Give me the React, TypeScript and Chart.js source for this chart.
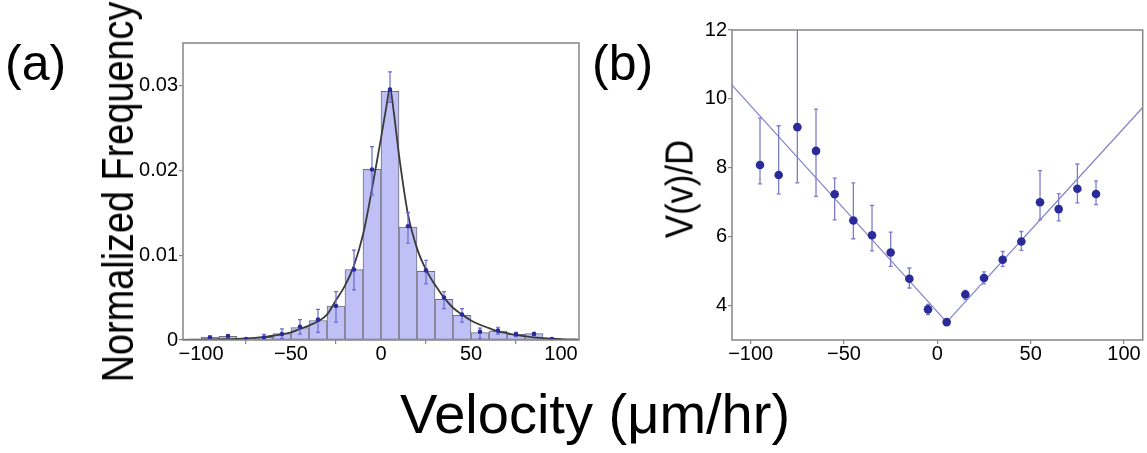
import React, { useEffect, useRef } from "react";
import { Chart, registerables } from "chart.js";

Chart.register(...registerables);

// ---------- Panel (a): histogram of velocities ----------
const binCenters = [-95, -85, -75, -65, -55, -45, -35, -25, -15, -5, 5, 15, 25, 35, 45, 55, 65, 75, 85, 95];
const binHeights = [0.00035, 0.00043, 0.0001, 0.0003, 0.00075, 0.00146, 0.0023, 0.004, 0.0083, 0.0201, 0.0293, 0.0133, 0.0081, 0.0048, 0.0029, 0.00087, 0.00106, 0.00067, 0.00075, 0.0002];
const histMean = [0.0003, 0.00047, 0.0001, 0.0003, 0.00071, 0.00157, 0.0024, 0.004, 0.0083, 0.0201, 0.0295, 0.0134, 0.0082, 0.005, 0.003, 0.00098, 0.0011, 0.00067, 0.00071, 0.0001];
const histLow = [0.0001, 0.0003, 0.0, 0.0, 0.0002, 0.0007, 0.0009, 0.0021, 0.0059, 0.0171, 0.028, 0.0114, 0.0066, 0.0037, 0.0021, 0.0002, 0.0007, 0.0004, 0.0005, 0.0];
const histHigh = [0.0005, 0.0006, 0.0002, 0.00067, 0.0013, 0.0024, 0.0036, 0.0057, 0.0106, 0.0228, 0.0316, 0.015, 0.0094, 0.0057, 0.0037, 0.0014, 0.0015, 0.0009, 0.0009, 0.0002];
const fitX = [-110, -100, -90, -80, -70, -60, -50, -45, -40, -35, -30, -25, -20, -15, -10, -5, 0, 3, 5, 7, 10, 15, 20, 25, 30, 35, 40, 45, 50, 55, 60, 65, 70, 75, 80, 85, 90, 95, 100, 110];
const fitY = [0.00002, 0.00005, 0.00008, 0.00012, 0.00025, 0.0005, 0.0009, 0.0013, 0.0017, 0.0022, 0.003, 0.0047, 0.0064, 0.0088, 0.0124, 0.0178, 0.0238, 0.0275, 0.0297, 0.027, 0.0218, 0.0148, 0.0108, 0.0083, 0.0065, 0.005, 0.0038, 0.003, 0.0023, 0.0018, 0.0014, 0.001, 0.0008, 0.0006, 0.00045, 0.0003, 0.00022, 0.00015, 0.0001, 0.00005];
const yTicksA = [0, 0.01, 0.02, 0.03];
const yTickLabelsA = ["0", "0.01", "0.02", "0.03"];

// ---------- Panel (b): V(v)/D ----------
const vCenters = [-95, -85, -75, -65, -55, -45, -35, -25, -15, -5, 5, 15, 25, 35, 45, 55, 65, 75, 85];
const vValues = [8.08, 7.79, 9.18, 8.49, 7.23, 6.47, 6.04, 5.54, 4.78, 3.89, 3.52, 4.32, 4.8, 5.33, 5.86, 7.0, 6.8, 7.39, 7.24];
const vLow = [7.53, 7.24, 7.56, 7.17, 6.49, 5.94, 5.59, 5.14, 4.51, 3.74, 3.47, 4.17, 4.63, 5.14, 5.6, 6.49, 6.46, 6.98, 6.93];
const vHigh = [9.44, 9.22, 12.8, 9.7, 7.7, 7.56, 6.91, 6.13, 5.09, 4.03, 3.57, 4.44, 4.98, 5.57, 6.15, 7.92, 7.25, 8.11, 7.62];
const vFitX = [-110, 5, 110];
const vFitY = [10.4, 3.52, 9.75];
const yTicksB = [4, 6, 8, 10, 12];
const yTickLabelsB = ["4", "6", "8", "10", "12"];

const xTicks = [-100, -50, 0, 50, 100];
const xTickLabels = ["\u2212100", "\u221250", "0", "50", "100"];

const FONT = "'Liberation Sans', Arial, Helvetica, sans-serif";
const FRAME = "#858585";

function makePlugin(dsIndex: number, xs: number[], lo: number[], hi: number[], color: string, width: number, cap: number) {
  return {
    id: "errbars" + dsIndex,
    beforeDatasetDraw(chart: any, args: any) {
      if (args.index !== dsIndex) return;
      const { ctx, chartArea, scales } = chart;
      const x = scales.x, y = scales.y;
      ctx.save();
      ctx.beginPath();
      ctx.rect(chartArea.left, chartArea.top, chartArea.right - chartArea.left, chartArea.bottom - chartArea.top);
      ctx.clip();
      ctx.strokeStyle = color;
      ctx.lineWidth = width;
      xs.forEach((xv, i) => {
        const px = x.getPixelForValue(xv);
        const p1 = y.getPixelForValue(lo[i]);
        const p2 = y.getPixelForValue(hi[i]);
        ctx.beginPath();
        ctx.moveTo(px, p1);
        ctx.lineTo(px, p2);
        ctx.moveTo(px - cap, p1);
        ctx.lineTo(px + cap, p1);
        ctx.moveTo(px - cap, p2);
        ctx.lineTo(px + cap, p2);
        ctx.stroke();
      });
      ctx.restore();
    },
    afterDraw(chart: any) {
      const { ctx, chartArea } = chart;
      ctx.save();
      ctx.strokeStyle = FRAME;
      ctx.lineWidth = 1.5;
      ctx.strokeRect(chartArea.left, chartArea.top, chartArea.right - chartArea.left, chartArea.bottom - chartArea.top);
      ctx.restore();
    },
  };
}

function axisX(height: number) {
  return {
    type: "linear" as const,
    min: -110,
    max: 110,
    offset: false,
    afterFit: (s: any) => { s.height = height; },
    afterBuildTicks: (s: any) => { s.ticks = xTicks.map((v) => ({ value: v })); },
    border: { display: false },
    grid: { display: true, drawOnChartArea: false, drawTicks: true, tickLength: 4, color: FRAME, lineWidth: 1.2 },
    ticks: {
      color: "#000",
      font: { family: FONT, size: 20 },
      padding: -2,
      maxRotation: 0,
      autoSkip: false,
      callback: (v: any) => { const i = xTicks.indexOf(Number(v)); return i >= 0 ? xTickLabels[i] : ""; },
    },
  };
}

function axisY(min: number, max: number, width: number, vals: number[], labels: string[]) {
  return {
    type: "linear" as const,
    min,
    max,
    afterFit: (s: any) => { s.width = width; },
    afterBuildTicks: (s: any) => { s.ticks = vals.map((v) => ({ value: v })); },
    border: { display: false },
    grid: { display: true, drawOnChartArea: false, drawTicks: true, tickLength: 4, color: FRAME, lineWidth: 1.2 },
    ticks: {
      color: "#000",
      font: { family: FONT, size: 20 },
      padding: 1,
      autoSkip: false,
      callback: (v: any) => { const i = vals.findIndex((t) => Math.abs(t - Number(v)) < 1e-9); return i >= 0 ? labels[i] : ""; },
    },
  };
}

export default function App() {
  const refA = useRef<HTMLCanvasElement | null>(null);
  const refB = useRef<HTMLCanvasElement | null>(null);

  useEffect(() => {
    const chartA = new Chart(refA.current as HTMLCanvasElement, {
      type: "bar",
      data: {
        datasets: [
          {
            type: "line",
            label: "points",
            data: binCenters.map((x, i) => ({ x, y: histMean[i] })),
            showLine: false,
            pointRadius: 2.3,
            pointBackgroundColor: "#2b2b9c",
            pointBorderWidth: 0,
            order: 0,
          } as any,
          {
            type: "line",
            label: "fit",
            data: fitX.map((x, i) => ({ x, y: fitY[i] })),
            borderColor: "#3a3a3a",
            borderWidth: 1.8,
            pointRadius: 0,
            cubicInterpolationMode: "monotone",
            order: 1,
          } as any,
          {
            type: "bar",
            label: "hist",
            data: binCenters.map((x, i) => ({ x, y: binHeights[i] })),
            backgroundColor: "#bfc0f6",
            borderColor: "#6f6f7a",
            borderWidth: 1,
            borderSkipped: false,
            barPercentage: 1,
            categoryPercentage: 1,
            order: 2,
          } as any,
        ],
      },
      options: {
        animation: false,
        responsive: false,
        events: [],
        layout: { padding: { left: 0, right: 11, top: 43, bottom: 0 } },
        plugins: { legend: { display: false }, tooltip: { enabled: false } },
        scales: {
          x: axisX(113),
          y: axisY(0, 0.035, 183, yTicksA, yTickLabelsA),
        },
      } as any,
      plugins: [makePlugin(0, binCenters, histLow, histHigh, "#6b6bd2", 1.2, 2)],
    });

    const chartB = new Chart(refB.current as HTMLCanvasElement, {
      type: "scatter",
      data: {
        datasets: [
          {
            label: "points",
            data: vCenters.map((x, i) => ({ x, y: vValues[i] })),
            showLine: false,
            pointRadius: 4.3,
            pointBackgroundColor: "#2a2a98",
            pointBorderWidth: 0,
            order: 0,
          } as any,
          {
            label: "fit",
            data: vFitX.map((x, i) => ({ x, y: vFitY[i] })),
            showLine: true,
            borderColor: "#8585cf",
            borderWidth: 1.3,
            pointRadius: 0,
            order: 1,
          } as any,
        ],
      },
      options: {
        animation: false,
        responsive: false,
        events: [],
        layout: { padding: { left: 0, right: 4, top: 30, bottom: 0 } },
        plugins: { legend: { display: false }, tooltip: { enabled: false } },
        scales: {
          x: axisX(113),
          y: axisY(3, 12, 142, yTicksB, yTickLabelsB),
        },
      } as any,
      plugins: [makePlugin(0, vCenters, vLow, vHigh, "#7d7dca", 1.3, 2)],
    });

    return () => {
      chartA.destroy();
      chartB.destroy();
    };
  }, []);

  const txt: React.CSSProperties = {
    position: "absolute",
    fontFamily: FONT,
    color: "#000",
    whiteSpace: "nowrap",
  };

  return (
    <div style={{ position: "absolute", left: 0, top: 0, width: 1147, height: 453, background: "#fff", overflow: "hidden" }}>
      <canvas ref={refA} width={590} height={453} style={{ position: "absolute", left: 0, top: 0 }} />
      <canvas ref={refB} width={557} height={453} style={{ position: "absolute", left: 590, top: 0 }} />
      <div style={{ ...txt, left: 5, top: 38, fontSize: 50, lineHeight: "50px" }}>(a)</div>
      <div style={{ ...txt, left: 592, top: 38, fontSize: 50, lineHeight: "50px" }}>(b)</div>
      <div
        style={{
          ...txt,
          left: 117.5,
          top: 192,
          fontSize: 44,
          lineHeight: "44px",
          transform: "translate(-50%, -50%) rotate(-90deg) scaleX(0.86)",
        }}
      >
        Normalized Frequency
      </div>
      <div
        style={{
          ...txt,
          left: 679,
          top: 189,
          fontSize: 39,
          lineHeight: "39px",
          transform: "translate(-50%, -50%) rotate(-90deg) scaleX(0.89)",
        }}
      >
        V(v)/D
      </div>
      <div
        style={{
          ...txt,
          left: 595,
          top: 386,
          fontSize: 56,
          lineHeight: "56px",
          transform: "translateX(-50%)",
        }}
      >
        Velocity (μm/hr)
      </div>
    </div>
  );
}
